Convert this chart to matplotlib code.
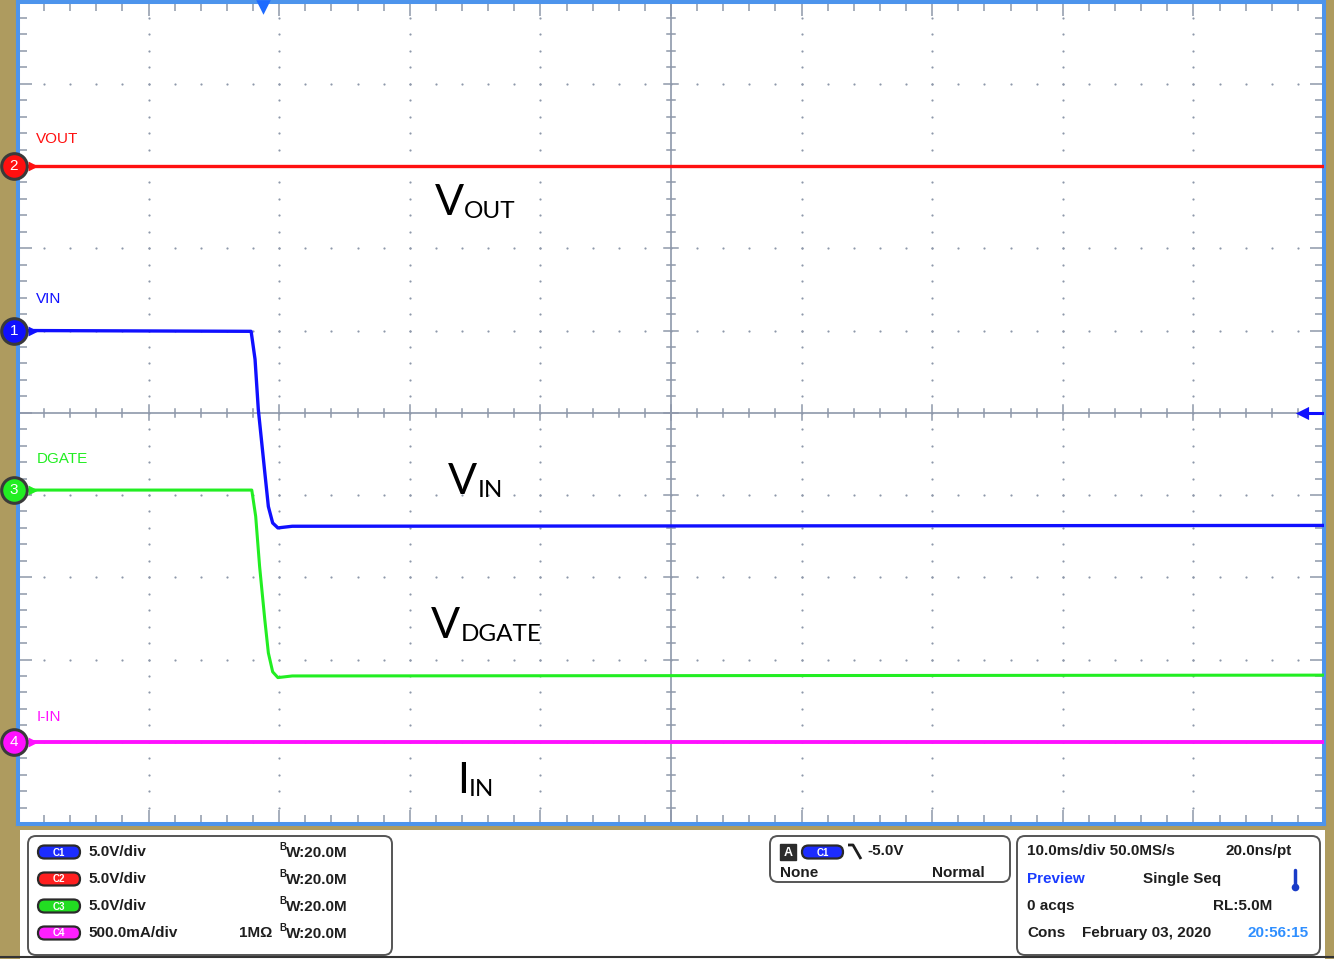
import numpy as np
import matplotlib
matplotlib.use("Agg")
import matplotlib.pyplot as plt
from matplotlib.patches import FancyBboxPatch, Rectangle

# ---- data (time in ms, amplitude in divisions from screen centre) ----
t_flat = [0, 100]
vout = [3.0, 3.0]
iin = [-4.0, -4.0]
t_vin = [0, 17.85, 18.15, 18.4, 18.9, 19.17, 19.5, 19.9, 21, 100]
vin = [1.0, 0.99, 0.65, 0.04, -0.73, -1.14, -1.34, -1.40, -1.38, -1.37]
t_dgate = [0, 17.9, 18.2, 18.5, 18.9, 19.17, 19.5, 19.9, 21, 100]
dgate = [-0.94, -0.94, -1.26, -1.87, -2.52, -2.92, -3.15, -3.22, -3.20, -3.19]

channels = ["VOUT", "VIN", "DGATE", "I-IN"]
ch_num = ["2", "1", "3", "4"]
ch_level = [3.0, 1.0, -0.94, -4.0]
ch_label_y = [3.33, 1.38, -0.56, -3.70]
ch_color = ["#FF1010", "#1010FF", "#22EE22", "#FF10FF"]

big_labels = [("V", "OUT", 31.9, 2.41), ("V", "IN", 32.9, -0.99),
              ("V", "DGATE", 31.6, -2.74), ("I", "IN", 33.6, -4.62)]

scale_txt = ["5.0V/div", "5.0V/div", "5.0V/div", "500.0mA/div"]
badge_txt = ["C1", "C2", "C3", "C4"]
badge_col = ["#1c2cff", "#ff2020", "#22dd22", "#ff20ff"]

GRIDC = "#8E98AA"
TAN = "#AE9B5F"
BORDER = "#4D94EC"
W, H = 1334, 959

fig = plt.figure(figsize=(W / 100, H / 100), dpi=100, facecolor=TAN)
ax = fig.add_axes([18 / W, (H - 824) / H, 1306 / W, 822.5 / H])
ax.set_xlim(0, 100)
ax.set_ylim(-5, 5)
ax.set_facecolor("white")
for s in ax.spines.values():
    s.set_color(BORDER)
    s.set_linewidth(2.9)
ax.set_xticks(np.arange(0, 101, 10))
ax.set_xticks(np.arange(0, 101, 2), minor=True)
ax.set_yticks(np.arange(-5, 5.01, 1))
ax.set_yticks(np.arange(-5, 5.01, 0.2), minor=True)
ax.tick_params(which="both", direction="in", top=True, right=True,
               labelbottom=False, labelleft=False, color=GRIDC, width=1.1)
ax.tick_params(which="major", length=10)
ax.tick_params(which="minor", length=6.5)

# dotted graticule
xs_minor = np.arange(2, 100, 2)
ys_minor = np.arange(-4.8, 5, 0.2)
for xm in np.arange(10, 100, 10):
    if xm != 50:
        ax.scatter(np.full(len(ys_minor), xm), ys_minor, s=2.5, color=GRIDC, lw=0, zorder=1)
for ym in np.arange(-4, 5, 1):
    if ym != 0:
        ax.scatter(xs_minor, np.full(len(xs_minor), ym), s=2.5, color=GRIDC, lw=0, zorder=1)

# centre crosshair with ticks
ax.axhline(0, color=GRIDC, lw=1.2, zorder=1)
ax.axvline(50, color=GRIDC, lw=1.2, zorder=1)
for xm in xs_minor:
    h = 0.09 if xm % 10 == 0 else 0.05
    ax.plot([xm, xm], [-h, h], color=GRIDC, lw=1.1, zorder=1)
for ym in ys_minor:
    h = 0.55 if abs(ym - round(ym)) < 1e-6 else 0.31
    ax.plot([50 - h, 50 + h], [ym, ym], color=GRIDC, lw=1.1, zorder=1)

# traces
ax.plot(t_flat, vout, color=ch_color[0], lw=2.4, zorder=3)
ax.plot(t_vin, vin, color=ch_color[1], lw=2.4, zorder=3)
ax.plot(t_dgate, dgate, color=ch_color[2], lw=2.2, zorder=3)
ax.plot(t_flat, iin, color=ch_color[3], lw=2.8, zorder=3)

# channel markers and labels
for name, num, lev, ly, c in zip(channels, ch_num, ch_level, ch_label_y, ch_color):
    ax.scatter([-0.31], [lev], s=340, color=c, edgecolor="#3a3a3a", lw=2.2, zorder=6, clip_on=False)
    ax.text(-0.31, lev, num, color="white", fontsize=11, ha="center", va="center",
            family="Liberation Sans", zorder=7, clip_on=False)
    ax.scatter([1.15], [lev], s=50, marker=">", color=c, lw=0, zorder=6, clip_on=False)
    ax.text(1.4, ly, name, color=c, fontsize=11, ha="left", va="center",
            family=["Liberation Sans Narrow", "Liberation Sans"], zorder=4)

# big annotations: main letter, then subscript placed right after it
renderer = fig.canvas.get_renderer()
for main, sub, x, y in big_labels:
    tm = ax.text(x, y, main, fontsize=31, family="Lato", ha="left", va="baseline", zorder=4)
    ext = tm.get_window_extent(renderer)
    x0 = ax.transData.transform((x, y))[0]
    ax.annotate(sub, (x, y), xytext=(ext.x1 - x0 + 0.5, -3), textcoords="offset pixels",
                fontsize=17.5, family="Lato", ha="left", va="baseline", zorder=4)

# trigger markers
ax.scatter([18.76], [4.93], s=110, marker="v", color="#1E6BFF", lw=0, zorder=6, clip_on=False)
ax.scatter([98.3], [0], s=90, marker="<", color="#1010FF", lw=0, zorder=6, clip_on=False)
ax.plot([98.3, 100], [0, 0], color="#1010FF", lw=2.2, zorder=6)

# ---- information panel (pixel coordinates) ----
ov = fig.add_axes([0, 0, 1, 1], zorder=10)
ov.set_xlim(0, W)
ov.set_ylim(H, 0)
ov.axis("off")
ov.patch.set_alpha(0)
ov.add_patch(Rectangle((20, 830), 1305, 129, color="white", lw=0))
ov.plot([0, W], [957, 957], color="#333333", lw=1.5)


def box(x0, y0, x1, y1):
    ov.add_patch(FancyBboxPatch((x0, y0), x1 - x0, y1 - y0,
                                boxstyle="round,pad=0,rounding_size=8",
                                fc="white", ec="#555555", lw=1.4))


def badge(x, y, label, col, w=42):
    ov.add_patch(FancyBboxPatch((x, y - 6.5), w, 13, boxstyle="round,pad=0,rounding_size=6.5",
                                fc=col, ec="#2a2a2a", lw=1.6))
    ov.text(x + w / 2, y + 0.5, label, color="white", fontsize=7, ha="center", va="center",
            family="Liberation Sans", fontweight="bold")


TXT = dict(family="Liberation Sans", fontweight="bold", fontsize=11, color="#1e1e1e", va="center")

box(28, 836, 392, 955)
rows = [852, 879, 906, 933]
for y, lab, col, st in zip(rows, badge_txt, badge_col, scale_txt):
    badge(38, y, lab, col)
    ov.text(88, y, st, ha="left", **TXT)
    ov.text(279, y - 5, "B", ha="left", **{**TXT, "fontsize": 7})
    ov.text(286, y + 1, "W:20.0M", ha="left", **TXT)
ov.text(272, rows[3], "1M\u03a9", ha="right", **TXT)

# trigger box
box(770, 836, 1010, 882)
ov.add_patch(Rectangle((780, 844), 16, 16, color="#2b2b2b"))
ov.text(788, 852.5, "A", color="white", ha="center", fontsize=9, family="Liberation Sans",
        fontweight="bold", va="center")
badge(802, 852, "C1", "#1c2cff", w=41)
ov.plot([848, 853, 861], [845, 845, 859], color="#1e1e1e", lw=2.0, solid_capstyle="butt")
ov.text(867, 851, "-5.0V", ha="left", **TXT)
ov.text(780, 873, "None", ha="left", **TXT)
ov.text(985, 873, "Normal", ha="right", **TXT)

# timebase box
box(1017, 836, 1320, 955)
ov.text(1027, 851, "10.0ms/div 50.0MS/s", ha="left", **TXT)
ov.text(1292, 851, "20.0ns/pt", ha="right", **TXT)
ov.text(1027, 879, "Preview", ha="left", **{**TXT, "color": "#1a3cff"})
ov.text(1143, 879, "Single Seq", ha="left", **TXT)
ov.plot([1295, 1295], [870, 886], color="#1a3cc8", lw=2.5, solid_capstyle="round")
ov.scatter([1295], [887], s=30, color="#1a3cc8", lw=0)
ov.text(1027, 906, "0 acqs", ha="left", **TXT)
ov.text(1272, 906, "RL:5.0M", ha="right", **TXT)
ov.text(1027, 933, "Cons", ha="left", **TXT)
ov.text(1082, 933, "February 03, 2020", ha="left", **TXT)
ov.text(1309, 933, "20:56:15", ha="right", **{**TXT, "color": "#2f8fff"})

fig.savefig("out.png", dpi=100, facecolor=TAN)
